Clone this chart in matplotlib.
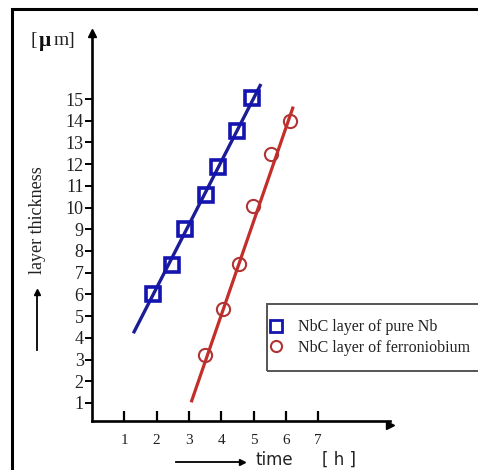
import matplotlib
matplotlib.use("Agg")
import matplotlib.pyplot as plt
from matplotlib.patches import Rectangle

# values
nb_time = [1.88, 2.49, 2.88, 3.52, 3.89, 4.48, 4.96]
nb_thick = [6.0, 7.37, 9.01, 10.58, 11.88, 13.54, 15.06]
nb_fit_time = [1.28, 5.23]
nb_fit_thick = [4.21, 15.69]

fenb_time = [3.50, 4.05, 4.55, 4.99, 5.53, 6.13]
fenb_thick = [3.19, 5.33, 7.40, 10.09, 12.45, 13.99]
fenb_fit_time = [3.07, 6.23]
fenb_fit_thick = [1.03, 14.65]

x_ticks = [1, 2, 3, 4, 5, 6, 7]
y_ticks = list(range(1, 16))

W, H = 478, 470
serif = "Liberation Serif"


def fx(px):
    return px / W


def fy(py):
    return 1 - py / H


fig = plt.figure(figsize=(4.78, 4.70), dpi=100)
ax = fig.add_axes([fx(92), fy(421), fx(390) - fx(92), fy(33) - fy(421)])

# fitted lines
ax.plot(nb_fit_time, nb_fit_thick, color="#1c1c96", lw=2.4, solid_capstyle="butt")
ax.plot(fenb_fit_time, fenb_fit_thick, color="#c42e2a", lw=2.3, solid_capstyle="butt")

# measured points
ax.plot(nb_time, nb_thick, ls="none", marker="s", ms=10, mfc="none",
        mec="#1414b0", mew=2.6, label="NbC layer of pure Nb")
ax.plot(fenb_time, fenb_thick, ls="none", marker="o", ms=9.5, mfc="none",
        mec="#b03434", mew=1.5, label="NbC layer of ferroniobium")

ax.set_xlim(0, 9.226)
ax.set_ylim(0.17, 18.04)

for s in ["top", "right"]:
    ax.spines[s].set_visible(False)
for s in ["left", "bottom"]:
    ax.spines[s].set_linewidth(1.9)

# arrow heads on the axes
ax.plot(1, 0, ">k", ms=6, transform=ax.get_yaxis_transform(), clip_on=False)
ax.plot(0, 1, "^k", ms=6, transform=ax.get_xaxis_transform(), clip_on=False)

ax.set_xticks(x_ticks)
ax.set_yticks(y_ticks)
ax.tick_params(axis="x", direction="in", length=7, width=1.6, pad=9,
               labelsize=11)
ax.tick_params(axis="y", direction="out", length=5, width=1.4, pad=1,
               labelsize=13)
for lab in ax.get_xticklabels() + ax.get_yticklabels():
    lab.set_fontfamily(serif)
    lab.set_color("#222222")

# legend: frameless, with its own box drawn round it
leg = ax.legend(loc="center left", bbox_to_anchor=(fx(270), fy(337.5)),
                bbox_transform=fig.transFigure, frameon=False,
                borderpad=0, handlelength=0.8, handletextpad=0.95,
                labelspacing=0.3, borderaxespad=0,
                prop={"family": serif, "size": 11.5})
for t in leg.get_texts():
    t.set_color("#222222")
for h in leg.legend_handles:
    h.set_markersize(8)
leg.legend_handles[0].set_markeredgewidth(2.0)
fig.add_artist(Rectangle((fx(267), fy(371)), 0.6, fy(304) - fy(371),
                         fill=False, lw=1.4, ec="#555555",
                         transform=fig.transFigure, zorder=3))

# y label with arrow
fig.text(fx(37), fy(220), "layer thickness", rotation=90, ha="center",
         va="center", family=serif, size=13, color="#222222")
fig.add_artist(plt.Line2D([fx(37), fx(37)], [fy(350), fy(294)], color="k", lw=1.3))
fig.add_artist(plt.Line2D([fx(37)], [fy(292)], marker="^", ms=5, color="k"))

# unit of y axis
fig.text(fx(31), fy(40), "[", ha="left", va="center", family=serif, size=14,
         color="#222222")
fig.text(fx(39), fy(41), "\u03bc", ha="left", va="center", family=serif,
         size=15.5, weight="bold", color="#111111")
fig.text(fx(54), fy(40), "m]", ha="left", va="center", family=serif, size=14,
         color="#222222")

# x label with arrow
fig.add_artist(plt.Line2D([fx(176), fx(240)], [fy(462), fy(462)], color="k", lw=1.3))
fig.add_artist(plt.Line2D([fx(242)], [fy(462)], marker=">", ms=5, color="k"))
fig.text(fx(256), fy(460), "time", ha="left", va="center", size=12,
         family="DejaVu Sans", color="#222222")
fig.text(fx(322), fy(460), "[ h ]", ha="left", va="center", size=12,
         family="DejaVu Sans", color="#222222")

# outer frame (cut by the picture edges on the right and bottom)
fig.add_artist(Rectangle((fx(12), -0.1), 1.2, fy(9) + 0.1, fill=False,
                         lw=2.2, ec="black", transform=fig.transFigure))

fig.savefig("out.png", dpi=100)
